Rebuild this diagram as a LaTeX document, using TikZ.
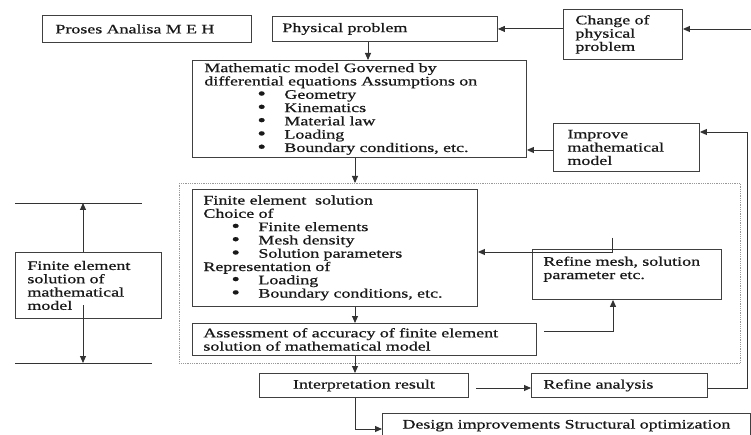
\documentclass[tikz,border=0pt]{standalone}
\usepackage{fontspec}
\setmainfont{Liberation Serif}[FakeStretch=1.38,FakeBold=0.7]
\usetikzlibrary{arrows.meta}

% bullet rows of the two list boxes
\newcommand\listdot{\smash{\raisebox{-0.6pt}{\scalebox{1.35}{•}}}}
\newcommand\mmitem[1]{\hspace*{53pt}\makebox[27pt][l]{\listdot}#1}
\newcommand\feitem[1]{\hspace*{28pt}\makebox[27pt][l]{\listdot}#1}

\begin{document}
\begin{tikzpicture}[x=1pt,y=-1pt,
  every node/.style={font=\fontsize{13}{13.3}\selectfont, text=black!90},
  box/.style={draw=black!75, line width=0.9pt, anchor=north west,
              inner ysep=0pt, align=left},
  link/.style={draw=black!80, line width=0.9pt},
  arr/.style={link, -{Triangle[length=7pt,width=6pt]}},
  framebox/.style={draw=black!40, densely dotted, line width=0.8pt,
                   anchor=north west, inner sep=0pt}]

\fill[white] (0,0) rectangle (751,435);
\useasboundingbox (0,0) rectangle (751,435);

% boxes
\node[box, minimum width=209pt, minimum height=27pt, inner xsep=13pt, text width=183pt]
  (proses) at (42,15) {Proses Analisa M E H};
\node[box, minimum width=225pt, minimum height=25pt, inner xsep=10pt, text width=205pt]
  (phys) at (272,16) {Physical problem};
\node[box, minimum width=119pt, minimum height=50pt, inner xsep=12pt, text width=95pt]
  (change) at (563,9) {Change of\\physical\\problem};
\node[box, minimum width=334pt, minimum height=97pt, inner xsep=12pt, text width=310pt]
  (math) at (192,60) {Mathematic model Governed by\\
    differential equations Assumptions on\\
    \mmitem{Geometry}\\
    \mmitem{Kinematics}\\
    \mmitem{Material law}\\
    \mmitem{Loading}\\
    \mmitem{Boundary conditions, etc.}};
\node[box, minimum width=146pt, minimum height=48pt, inner xsep=14pt, text width=118pt]
  (improve) at (553,123) {Improve\\mathematical\\model};

\node[framebox, minimum width=561pt, minimum height=180pt] (frame) at (179,183) {};

\node[box, minimum width=285pt, minimum height=117pt, inner xsep=11pt, text width=263pt]
  (fe) at (192,189) {Finite element\ \ solution\\
    Choice of\\
    \feitem{Finite elements}\\
    \feitem{Mesh density}\\
    \feitem{Solution parameters}\\
    Representation of\\
    \feitem{Loading}\\
    \feitem{Boundary conditions, etc.}};
\node[box, minimum width=189pt, minimum height=50pt, inner xsep=11pt, text width=167pt]
  (refmesh) at (532,249) {Refine mesh, solution\\parameter etc.\\\mbox{}};
\node[box, minimum width=344pt, minimum height=32pt, inner xsep=11pt, text width=322pt]
  (assess) at (192,323) {Assessment of accuracy of finite element\\solution of mathematical model};
\node[box, minimum width=209pt, minimum height=24pt, inner xsep=10pt, text width=189pt, align=center]
  (interp) at (259,373) {Interpretation result};
\node[box, minimum width=176pt, minimum height=24pt, inner xsep=12pt, text width=152pt]
  (refan) at (531,373) {Refine analysis};
\node[box, minimum width=368pt, minimum height=24pt, inner xsep=10pt, text width=348pt, align=center]
  (design) at (382,413) {Design improvements Structural optimization};
\node[box, minimum width=146pt, minimum height=66pt, inner xsep=12pt, text width=122pt]
  (fesol) at (15,252) {Finite element\\solution of\\mathematical\\model};

% reference points for the connectors
\coordinate (inlet) at (751,29);
\coordinate (pspine) at (368,0);
\coordinate (spine) at (355,0);
\coordinate (impy) at (0,150);
\coordinate (impin) at (0,132);
\coordinate (rail) at (747,0);
\coordinate (tick) at (612,238);
\coordinate (fey) at (0,252);
\coordinate (ay) at (544,331);
\coordinate (ax) at (613,0);
\coordinate (iry) at (476,388);
\coordinate (dturn) at (0,429);
\coordinate (toplineL) at (15,203);
\coordinate (toplineR) at (142,203);
\coordinate (botlineL) at (15,363);
\coordinate (botlineR) at (152,363);
\coordinate (upmark) at (83,203);
\coordinate (downstart) at (83,305);
\coordinate (downmark) at (83,363);

% top row
\draw[arr] (inlet) -- (inlet -| change.east);
\draw[arr] (change.west |- phys.east) -- (phys.east);
\draw[arr] (phys.south -| pspine) -- (math.north -| pspine);
\draw[arr] (improve.west |- impy) -- (math.east |- impy);

% main chain
\draw[arr] (math.south -| spine) -- (frame.north -| spine);
\draw[arr] (fe.south -| spine) -- (assess.north -| spine);
\draw[arr] (assess.south -| spine) -- (interp.north -| spine);
\draw[arr] (interp.south -| spine) |- (design.west |- dturn);

% refinement loops
\draw[arr] (ay) -| (refmesh.south -| ax);
\draw[arr] (tick) |- (fe.east |- fey);
\draw[arr] (iry) -- (refan.west |- iry);
\draw[arr] (refan.east |- iry) -| (rail |- impin) -- (improve.east |- impin);

% span marker on the left
\draw[link] (toplineL) -- (toplineR);
\draw[link] (botlineL) -- (botlineR);
\draw[arr] (fesol.north -| upmark) -- (upmark);
\draw[arr] (downstart) -- (downmark);

\end{tikzpicture}
\end{document}
